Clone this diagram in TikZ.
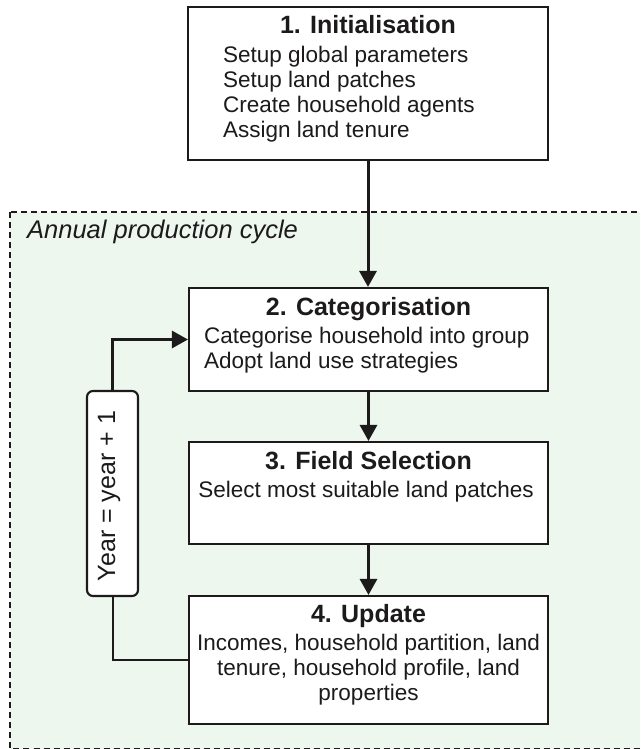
\documentclass[tikz,border=0pt]{standalone}
\usepackage{fontspec}
\setmainfont{Liberation Sans}
\usetikzlibrary{arrows.meta}
\definecolor{cyclebg}{RGB}{237,247,238}
\definecolor{ink}{RGB}{28,26,27}
\begin{document}
\begin{tikzpicture}[x=1pt,y=-1pt,
  box/.style={draw=ink, line width=2.1pt, fill=white, inner sep=0pt},
  flow/.style={draw=ink, line width=3pt, -{Triangle[length=16pt,width=17pt]}},
  back/.style={draw=ink, line width=2pt},
  ttl/.style={font=\fontsize{25}{28}\selectfont\bfseries, anchor=base, inner sep=0pt, text=ink},
  txt/.style={font=\fontsize{22.5}{25}\selectfont, inner sep=0pt, text=ink},
  region/.style={draw=ink, line width=1.6pt, dash pattern=on 6pt off 4pt, fill=cyclebg}
]
\useasboundingbox (0,0) rectangle (640,749);
\clip (0,0) rectangle (640,749);
% annual production cycle region
\path[region] (10,212) rectangle (652,748.5);
\node[txt, font=\fontsize{25.5}{28}\selectfont\itshape, anchor=base west] (cyclelbl) at (27,238) {Annual production cycle};

% boxes
\node[box, minimum width=360pt, minimum height=153pt] (b1) at (368,83.5) {};
\node[box, minimum width=359pt, minimum height=103pt] (b2) at (368.5,339.5) {};
\node[box, minimum width=359pt, minimum height=102pt] (b3) at (368.5,493) {};
\node[box, minimum width=359pt, minimum height=128pt] (b4) at (368.5,660) {};
\node[box, rounded corners=6pt, minimum width=51pt, minimum height=205pt] (yr) at (112.5,493.5) {};

% box 1 text
\node[ttl] (t1) at (368,34) {1. Initialisation};
\node[txt, anchor=base west] (l1a) at (223,63) {Setup global parameters};
\node[txt, anchor=base west] (l1b) at (223,88) {Setup land patches};
\node[txt, anchor=base west] (l1c) at (223,113) {Create household agents};
\node[txt, anchor=base west] (l1d) at (223,138) {Assign land tenure};

% box 2 text
\node[ttl] (t2) at (368.5,315) {2. Categorisation};
\node[txt, anchor=base west] (l2a) at (204,343) {Categorise household into group};
\node[txt, anchor=base west] (l2b) at (204,368) {Adopt land use strategies};

% box 3 text
\node[ttl] (t3) at (368.5,469) {3. Field Selection};
\node[txt, anchor=base] (l3a) at (366,497) {Select most suitable land patches};

% box 4 text
\node[ttl] (t4) at (368.5,622) {4. Update};
\node[txt, anchor=base] (l4a) at (368.5,650) {Incomes, household partition, land};
\node[txt, anchor=base] (l4b) at (368.5,675) {tenure, household profile, land};
\node[txt, anchor=base] (l4c) at (368.5,700) {properties};

% year label
\node[txt, font=\fontsize{25}{28}\selectfont, rotate=90, anchor=base] (yrtxt) at (115,496) {Year = year + 1};

% connectors
\draw[flow] (b1.south) -- (b1.south |- b2.north);
\draw[flow] (b2.south) -- (b3.north);
\draw[flow] (b3.south) -- (b4.north);
\draw[back] (b4.west) -| (yr.south);
\draw[flow] (yr.north) |- (b2.west);
\end{tikzpicture}
\end{document}
